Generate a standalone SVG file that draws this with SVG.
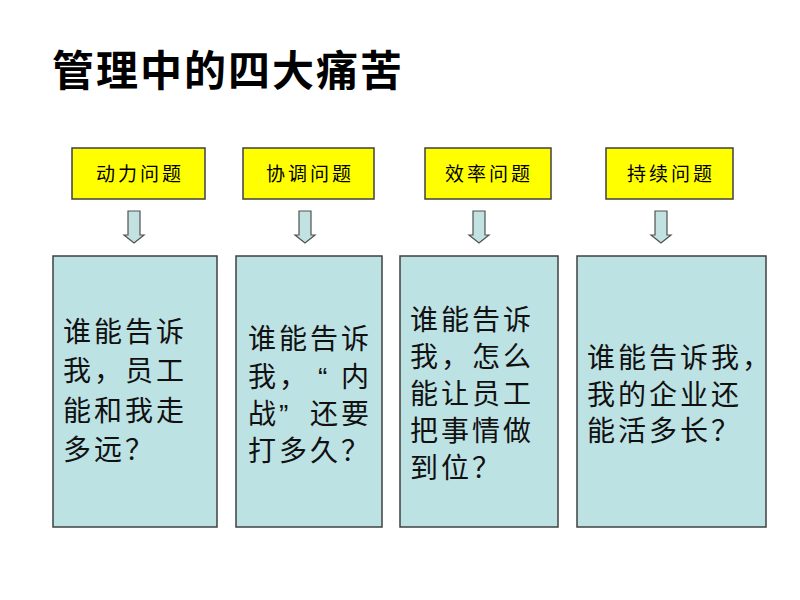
<svg xmlns="http://www.w3.org/2000/svg" width="800" height="600" viewBox="0 0 800 600">
<style>
.title{font-family:"Liberation Sans","Noto Sans CJK SC",sans-serif;font-weight:bold;font-size:42px;letter-spacing:2px;fill:#000}
.ybox{fill:#ffff00;stroke:#404040;stroke-width:1.5}
.ylab{font-family:"Liberation Sans","Noto Sans CJK SC",sans-serif;font-size:19px;letter-spacing:3px;fill:#000;text-anchor:middle}
.bbox{fill:#bde2e4;stroke:#404040;stroke-width:1.5}
.btxt{font-family:"Liberation Sans","Noto Sans CJK SC",sans-serif;font-size:28px;letter-spacing:3px;fill:#111}
.arr{fill:#c2e2e2;stroke:#505050;stroke-width:1.2}
</style>
<rect width="800" height="600" fill="#ffffff"/>
<text class="title" x="52" y="86">管理中的四大痛苦</text>

<g id="head1"><rect class="ybox" x="72" y="148" width="133" height="51"/><text class="ylab" x="140" y="181">动力问题</text></g>
<g id="head2"><rect class="ybox" x="243" y="148" width="131" height="51"/><text class="ylab" x="310" y="181">协调问题</text></g>
<g id="head3"><rect class="ybox" x="425" y="148" width="126" height="51"/><text class="ylab" x="489" y="181">效率问题</text></g>
<g id="head4"><rect class="ybox" x="606" y="148" width="127" height="51"/><text class="ylab" x="671" y="181">持续问题</text></g>

<g id="connectors">
<path class="arr" d="M128,211 H140 V235 H144 L134,243 L124,235 H128 Z"/>
<path class="arr" d="M299,211 H311 V235 H315 L305,243 L295,235 H299 Z"/>
<path class="arr" d="M473,211 H485 V235 H489 L479,243 L469,235 H473 Z"/>
<path class="arr" d="M655,211 H667 V235 H671 L661,243 L651,235 H655 Z"/>
</g>

<g id="box1"><rect class="bbox" x="53" y="256" width="164" height="271"/>
<text class="btxt"><tspan x="63" y="342">谁能告诉</tspan><tspan x="63" y="381">我，员工</tspan><tspan x="63" y="421">能和我走</tspan><tspan x="63" y="460">多远？</tspan></text></g>

<g id="box2"><rect class="bbox" x="236" y="256" width="146" height="271"/>
<text class="btxt"><tspan x="248" y="349">谁能告诉</tspan><tspan x="248" y="387">我，</tspan><tspan x="318" y="387">“</tspan><tspan x="341" y="387">内</tspan><tspan x="248" y="424">战</tspan><tspan x="279" y="424">”</tspan><tspan x="310" y="424">还要</tspan><tspan x="248" y="461">打多久？</tspan></text></g>

<g id="box3"><rect class="bbox" x="400" y="256" width="158" height="271"/>
<text class="btxt"><tspan x="410" y="330">谁能告诉</tspan><tspan x="410" y="367">我，怎么</tspan><tspan x="410" y="404">能让员工</tspan><tspan x="410" y="441">把事情做</tspan><tspan x="410" y="478">到位？</tspan></text></g>

<g id="box4"><rect class="bbox" x="577" y="256" width="189" height="271"/>
<text class="btxt"><tspan x="587" y="368">谁能告诉我，</tspan><tspan x="587" y="405">我的企业还</tspan><tspan x="587" y="441">能活多长？</tspan></text></g>
</svg>
